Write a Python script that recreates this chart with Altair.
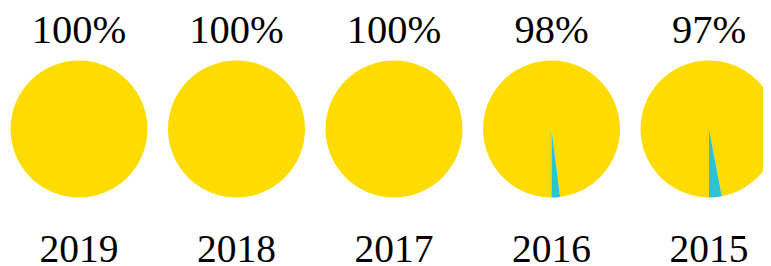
import math
import altair as alt
import pandas as pd

years = ["2019", "2018", "2017", "2016", "2015"]
pct_yes = [100, 100, 100, 98, 97]

YELLOW = "#FFDC00"
TEAL = "#2CC3D2"
FONT = "'Liberation Serif', 'DejaVu Serif', serif"

rows = []
for y, p in zip(years, pct_yes):
    rows.append({"year": y, "cat": "yes", "start": 0, "end": p, "pct": p})
    rows.append({"year": y, "cat": "no", "start": p, "end": 100, "pct": p})
df = pd.DataFrame(rows)

xenc = alt.X("year:N", sort=years, axis=None,
             scale=alt.Scale(type="point", range=[71, 701], padding=0))

base = alt.Chart(df)

arcs = base.mark_arc(radius=68.5).encode(
    x=xenc,
    y=alt.value(121),
    theta=alt.Theta("start:Q", stack=None,
                    scale=alt.Scale(domain=[0, 100], range=[math.pi, 3 * math.pi])),
    theta2="end:Q",
    color=alt.Color("cat:N", scale=alt.Scale(domain=["yes", "no"], range=[YELLOW, TEAL]),
                    legend=None),
)

pct_text = base.transform_filter(alt.datum.cat == "yes").transform_calculate(
    label="datum.pct + '%'"
).mark_text(font=FONT, fontSize=40.5, baseline="alphabetic", align="center", color="#000000").encode(
    x=xenc,
    text="label:N",
    y=alt.value(35.3),
)

year_text = base.transform_filter(alt.datum.cat == "yes").mark_text(
    font=FONT, fontSize=39.5, baseline="alphabetic", align="center", color="#000000"
).encode(
    x=xenc,
    text="year:N",
    y=alt.value(253.5),
)

chart = alt.layer(arcs, pct_text, year_text).properties(
    width=755, height=258, padding=0,
    autosize=alt.AutoSizeParams(type="none"),
).configure_view(stroke=None)

chart.save("out.html", embed_options={"renderer": "svg", "actions": False})
